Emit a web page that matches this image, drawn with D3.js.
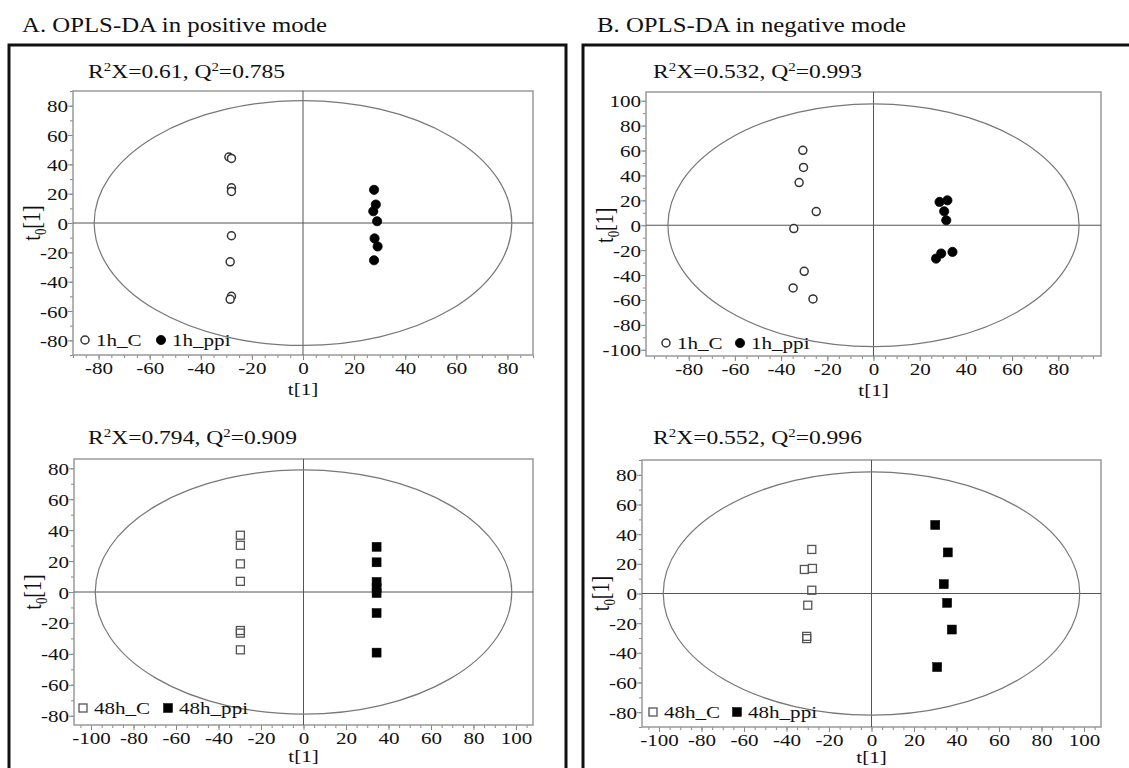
<!DOCTYPE html>
<html>
<head>
<meta charset="utf-8">
<script src="https://cdn.jsdelivr.net/npm/d3@7"></script>
<style>
  body { margin: 0; background: #fff; }
  svg { display: block; font-family: "Liberation Serif", "Times New Roman", serif; }
  text { font-family: "Liberation Serif", "Times New Roman", serif; }
</style>
</head>
<body>
<svg id="chart" width="1129" height="768"></svg>
<script>
// ---------------- DATA ----------------
const panelTitles = ["A. OPLS-DA in positive mode", "B. OPLS-DA in negative mode"];
const statLabels = [["0.61", "0.785"], ["0.532", "0.993"], ["0.794", "0.909"], ["0.552", "0.996"]];
const legendLabels = [["1h_C", "1h_ppi"], ["1h_C", "1h_ppi"], ["48h_C", "48h_ppi"], ["48h_C", "48h_ppi"]];

// Panel 1: positive 1h
const p1CtrlX = [-29, -28, -28, -28, -28, -28.5, -28, -28.5];
const p1CtrlY = [45, 44, 24, 21.5, -8.7, -26.5, -50, -52];
const p1PpiX = [27.8, 28.5, 27.5, 29, 28, 29.2, 27.8];
const p1PpiY = [22.6, 12.6, 8, 1.2, -10.5, -16, -25.4];
// Panel 2: negative 1h
const p2CtrlX = [-30.6, -30.3, -32.2, -24.8, -34.5, -30, -34.8, -26.2];
const p2CtrlY = [60.2, 46.4, 34.3, 11, -2.7, -37, -50.3, -59.2];
const p2PpiX = [28.6, 32, 30.6, 31.5, 27.1, 29.3, 34.2];
const p2PpiY = [18.7, 20, 11.2, 4, -26.8, -22.7, -21.4];
// Panel 3: positive 48h
const p3CtrlX = [-29.7, -29.7, -29.7, -29.7, -29.7, -29.7, -29.7];
const p3CtrlY = [36.7, 30.2, 18.2, 6.9, -24.9, -26.6, -37.4];
const p3PpiX = [34.4, 34.4, 34.4, 34.4, 34.4, 34.4, 34.4];
const p3PpiY = [29.2, 19.2, 6.5, 2.5, -0.7, -13.6, -39.2];
// Panel 4: negative 48h
const p4CtrlX = [-28.1, -31.6, -27.8, -28.1, -30, -30.5, -30.5];
const p4CtrlY = [29.7, 16.2, 16.9, 2.2, -7.9, -28.9, -30.4];
const p4PpiX = [30, 35.9, 34, 35.6, 37.8, 30.9];
const p4PpiY = [46.2, 27.7, 6.3, -6.3, -24.3, -49.6];

// Hotelling T2 ellipse radii [rx, ry]
const ellipseRadii = [[81.7, 83.5], [89, 97.5], [98, 79], [98, 82]];
// Axis domains and ticks
const xDomains = [[-90, 90], [-98.5, 98.5], [-108, 108], [-108, 108]];
const yDomains = [[-90, 90], [-105, 107], [-86, 86], [-90, 90]];
const xTickVals = [d3.range(-80, 81, 20), d3.range(-80, 81, 20), d3.range(-100, 101, 20), d3.range(-100, 101, 20)];
const yTickVals = [d3.range(-80, 81, 20), d3.range(-100, 101, 20), d3.range(-80, 81, 20), d3.range(-80, 81, 20)];

// ---------------- LAYOUT ----------------
const boxes = [
  { l: 73, r: 533, t: 91, b: 355 },
  { l: 646, r: 1101, t: 92, b: 356 },
  { l: 74, r: 533, t: 459, b: 725 },
  { l: 642, r: 1101, t: 460, b: 727 }
];
const titleX = [88, 653, 88, 653];
const titleY = [78, 78, 444, 444];
const legendX = [85, 666, 83, 653];
const legendY = [340, 343, 708, 712];
const legendGap = [76, 74, 85, 84];
const xLabelOffset = [40, 40, 37, 36];
const markerShape = ["circle", "circle", "square", "square"];
const SX = 1.24; // horizontal stretch of the reference's text

const panels = [
  { cx: p1CtrlX, cy: p1CtrlY, px: p1PpiX, py: p1PpiY },
  { cx: p2CtrlX, cy: p2CtrlY, px: p2PpiX, py: p2PpiY },
  { cx: p3CtrlX, cy: p3CtrlY, px: p3PpiX, py: p3PpiY },
  { cx: p4CtrlX, cy: p4CtrlY, px: p4PpiX, py: p4PpiY }
];

const svg = d3.select("#chart");
const FONT = 17;

function sText(parent, x, y, size, anchor) {
  return parent.append("text")
    .attr("transform", `translate(${x},${y}) scale(${SX},1)`)
    .attr("font-size", size).attr("fill", "#111")
    .attr("text-anchor", anchor || "start");
}

// Outer frames and headings
svg.append("path").attr("d", "M9,768 L9,45 L566,45 L566,768")
  .attr("fill", "none").attr("stroke", "#111").attr("stroke-width", 3);
svg.append("path").attr("d", "M583,768 L583,45 L1135,45")
  .attr("fill", "none").attr("stroke", "#111").attr("stroke-width", 3);
sText(svg, 22, 32, 20).text(panelTitles[0]);
sText(svg, 597, 32, 20).text(panelTitles[1]);

function drawMarker(g, shape, filled, x, y) {
  if (shape === "circle") {
    g.append("circle").attr("cx", x).attr("cy", y).attr("r", filled ? 4.6 : 4)
      .attr("fill", filled ? "#000" : "#fff")
      .attr("stroke", filled ? "#000" : "#333").attr("stroke-width", filled ? 0.8 : 1.5);
  } else {
    const s = filled ? 9 : 8;
    g.append("rect").attr("x", x - s / 2).attr("y", y - s / 2).attr("width", s).attr("height", s)
      .attr("fill", filled ? "#000" : "none")
      .attr("stroke", filled ? "#000" : "#555").attr("stroke-width", filled ? 0.5 : 1.3);
  }
}

const fmt = d => String(d);

panels.forEach((p, i) => {
  const bx = boxes[i];
  const x = d3.scaleLinear().domain(xDomains[i]).range([bx.l, bx.r]);
  const y = d3.scaleLinear().domain(yDomains[i]).range([bx.b, bx.t]);
  const g = svg.append("g");

  // minor ticks
  const xMinor = d3.range(Math.ceil(xDomains[i][0] / 5) * 5, xDomains[i][1] + 0.01, 5);
  const yMinor = d3.range(Math.ceil(yDomains[i][0] / 10) * 10, yDomains[i][1] + 0.01, 10);
  g.append("g").attr("transform", `translate(0,${bx.b})`)
    .call(d3.axisBottom(x).tickValues(xMinor).tickSize(3).tickFormat(""))
    .call(a => a.select(".domain").remove())
    .call(a => a.selectAll("line").attr("stroke", "#888"));
  g.append("g").attr("transform", `translate(${bx.l},0)`)
    .call(d3.axisLeft(y).tickValues(yMinor).tickSize(3).tickFormat(""))
    .call(a => a.select(".domain").remove())
    .call(a => a.selectAll("line").attr("stroke", "#888"));

  // major axes
  const xa = g.append("g").attr("transform", `translate(0,${bx.b})`)
    .call(d3.axisBottom(x).tickValues(xTickVals[i]).tickSize(5).tickFormat(fmt));
  xa.select(".domain").remove();
  xa.selectAll("line").attr("stroke", "#888");
  xa.selectAll("text")
    .attr("x", null).attr("y", null).attr("dy", null)
    .attr("transform", `translate(0,19) scale(${SX},1)`)
    .attr("font-size", FONT).attr("font-family", "Liberation Serif").attr("fill", "#111");
  const ya = g.append("g").attr("transform", `translate(${bx.l},0)`)
    .call(d3.axisLeft(y).tickValues(yTickVals[i]).tickSize(5).tickFormat(fmt));
  ya.select(".domain").remove();
  ya.selectAll("line").attr("stroke", "#888");
  ya.selectAll("text")
    .attr("x", null).attr("dy", null)
    .attr("transform", `translate(-5,6) scale(${SX},1)`)
    .attr("font-size", FONT).attr("font-family", "Liberation Serif").attr("fill", "#111");

  // plot box
  g.append("rect").attr("x", bx.l).attr("y", bx.t).attr("width", bx.r - bx.l).attr("height", bx.b - bx.t)
    .attr("fill", "none").attr("stroke", "#999").attr("stroke-width", 1.5);

  // crosshair
  g.append("line").attr("x1", x(0)).attr("x2", x(0)).attr("y1", bx.t).attr("y2", bx.b)
    .attr("stroke", "#555").attr("stroke-width", 1);
  g.append("line").attr("x1", bx.l).attr("x2", bx.r).attr("y1", y(0)).attr("y2", y(0))
    .attr("stroke", "#555").attr("stroke-width", 1);

  // ellipse
  const [rx, ry] = ellipseRadii[i];
  g.append("ellipse").attr("cx", x(0)).attr("cy", y(0))
    .attr("rx", x(rx) - x(0)).attr("ry", y(0) - y(ry))
    .attr("fill", "none").attr("stroke", "#777").attr("stroke-width", 1.2);

  // points
  p.cx.forEach((v, k) => drawMarker(g, markerShape[i], false, x(v), y(p.cy[k])));
  p.px.forEach((v, k) => drawMarker(g, markerShape[i], true, x(v), y(p.py[k])));

  // title R2X / Q2
  const t = sText(g, titleX[i], titleY[i], 19);
  t.append("tspan").text("R");
  t.append("tspan").attr("font-size", 12).attr("dy", -7).text("2");
  t.append("tspan").attr("dy", 7).text("X=" + statLabels[i][0] + ", Q");
  t.append("tspan").attr("font-size", 12).attr("dy", -7).text("2");
  t.append("tspan").attr("dy", 7).text("=" + statLabels[i][1]);

  // axis labels
  sText(g, (bx.l + bx.r) / 2, bx.b + xLabelOffset[i], 17, "middle").text("t[1]");
  const yl = g.append("text").attr("transform", `translate(${bx.l - 33},${y(0)}) rotate(-90) scale(1,${SX})`)
    .attr("text-anchor", "middle").attr("font-size", 20).attr("fill", "#111");
  yl.append("tspan").text("t");
  yl.append("tspan").attr("font-size", 13).attr("dy", 5).text("0");
  yl.append("tspan").attr("dy", -5).text("[1]");

  // legend
  const ly = legendY[i];
  const lx0 = legendX[i];
  const lg = g.append("g");
  drawMarker(lg, markerShape[i], false, lx0, ly);
  sText(lg, lx0 + 11, ly + 6, 17).text(legendLabels[i][0]);
  const lx1 = lx0 + legendGap[i];
  drawMarker(lg, markerShape[i], true, lx1, ly);
  sText(lg, lx1 + 11, ly + 6, 17).text(legendLabels[i][1]);
});
</script>
</body>
</html>
